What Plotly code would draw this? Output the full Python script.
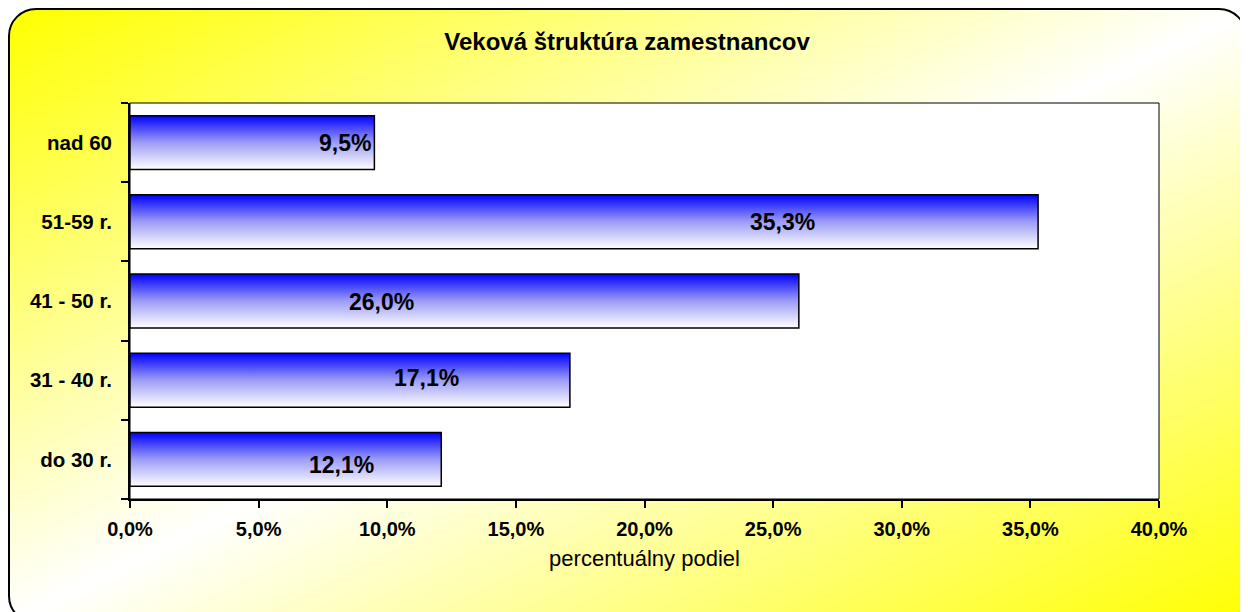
import base64
import plotly.graph_objects as go

# ---- data ----
categories = ["do 30 r.", "31 - 40 r.", "41 - 50 r.", "51-59 r.", "nad 60"]
values = [12.1, 17.1, 26.0, 35.3, 9.5]
x_ticks = [0, 5, 10, 15, 20, 25, 30, 35, 40]
x_ticktext = [f"{t:.1f}".replace(".", ",") + "%" for t in x_ticks]
title_text = "Veková štruktúra zamestnancov"
x_title = "percentuálny podiel"

# ---- layout / style (positions of the manually placed data labels, in %) ----
label_x = [8.24, 11.54, 9.76, 25.35, 8.36]
label_yshift = [-6, 2, -1, 0, 0]
BAR_HALF = 0.34
W, H = 1248, 612
L, T = 122, 95
PW, PH = 1029, 396
R, B = W - L - PW, H - T - PH
FONT = "Liberation Sans, Arial, sans-serif"

fig = go.Figure()

for i, (cat, v) in enumerate(zip(categories, values)):
    y0, y1 = i - BAR_HALF, i + BAR_HALF
    fig.add_trace(go.Scatter(
        x=[0, v, v, 0, 0],
        y=[y0, y0, y1, y1, y0],
        mode="lines",
        fill="toself",
        fillgradient=dict(
            type="vertical",
            start=y0, stop=y1,
            colorscale=[[0, "#ffffff"], [0.5, "#9c9cf6"], [1, "#0000ff"]],
        ),
        line=dict(color="#000000", width=1.5),
        hoverinfo="skip",
        showlegend=False,
    ))
    fig.add_annotation(
        x=label_x[i], y=i, xref="x", yref="y",
        text=f"{v:.1f}".replace(".", ",") + "%",
        showarrow=False, yshift=label_yshift[i],
        font=dict(family=FONT, size=23, color="#000000", weight="bold"),
    )

# invisible trace so that yaxis2 (category labels) is drawn
fig.add_trace(go.Scatter(x=[None], y=[None], yaxis="y2", showlegend=False, hoverinfo="skip"))

# background: diagonal yellow gradient inside rounded frame
svg = f'''<svg xmlns="http://www.w3.org/2000/svg" width="{W}" height="{H}" viewBox="0 0 {W} {H}">
<defs><linearGradient id="g" x1="0" y1="0" x2="1" y2="1">
<stop offset="0" stop-color="#ffff00"/>
<stop offset="0.5" stop-color="#ffffff"/>
<stop offset="1" stop-color="#ffff00"/>
</linearGradient></defs>
<rect x="1" y="1" width="1237" height="614" rx="27" ry="27" fill="url(#g)" stroke="#000000" stroke-width="2"/>
</svg>'''
src = "data:image/svg+xml;base64," + base64.b64encode(svg.encode("utf-8")).decode("ascii")
fig.add_layout_image(
    source=src, xref="paper", yref="paper",
    x=-L / PW, y=1 + T / PH, sizex=W / PW, sizey=H / PH,
    xanchor="left", yanchor="top", sizing="stretch", layer="below",
)

# white plot area with border
fig.add_shape(type="rect", xref="paper", yref="paper", x0=0, x1=1, y0=0, y1=1,
              fillcolor="#ffffff", line=dict(color="#000000", width=1), layer="below")

fig.update_layout(
    width=W, height=H,
    margin=dict(l=L, r=R, t=T, b=B, autoexpand=False),
    paper_bgcolor="#ffffff",
    plot_bgcolor="rgba(0,0,0,0)",
    showlegend=False,
    title=dict(
        text=title_text, xref="container", yref="container",
        x=619 / W, y=1 - 34 / H, xanchor="center", yanchor="middle",
        font=dict(family=FONT, size=24, color="#000000", weight="bold"),
    ),
    xaxis=dict(
        range=[0, 40], tickvals=x_ticks, ticktext=x_ticktext,
        showgrid=False, zeroline=False, showline=True, linecolor="#000000", linewidth=1.5,
        ticks="outside", ticklen=7, tickcolor="#000000", tickwidth=1.5,
        ticklabelstandoff=4,
        tickfont=dict(family=FONT, size=20, color="#000000", weight="bold"),
        title=dict(text=x_title, standoff=12,
                   font=dict(family=FONT, size=22, color="#000000")),
        automargin=False, fixedrange=True,
    ),
    yaxis=dict(
        range=[-0.5, len(categories) - 0.5],
        tickvals=[k - 0.5 for k in range(len(categories) + 1)],
        showticklabels=False,
        showgrid=False, zeroline=False, showline=True, linecolor="#000000", linewidth=1.5,
        ticks="outside", ticklen=7, tickcolor="#000000", tickwidth=1.5,
        automargin=False, fixedrange=True,
    ),
    yaxis2=dict(
        overlaying="y", side="left", matches="y",
        range=[-0.5, len(categories) - 0.5],
        tickvals=list(range(len(categories))), ticktext=categories,
        showgrid=False, zeroline=False, showline=False, ticks="",
        ticklabelstandoff=17,
        tickfont=dict(family=FONT, size=20.5, color="#000000", weight="bold"),
        automargin=False, fixedrange=True,
    ),
)

fig.write_html("out.html", config={"displayModeBar": False})
